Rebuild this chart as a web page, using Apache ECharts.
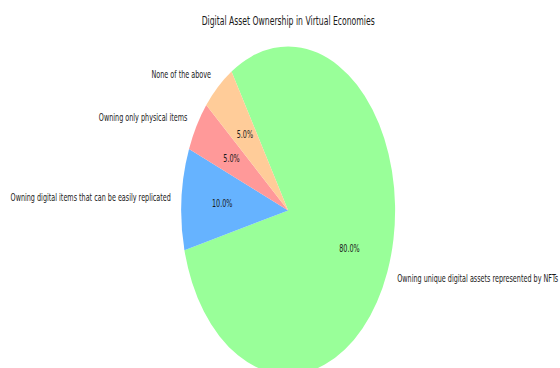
<!DOCTYPE html>
<html><head><meta charset="utf-8">
<script src="https://cdn.jsdelivr.net/npm/echarts@6/dist/echarts.min.js"></script>
<style>
html,body{margin:0;padding:0;width:560px;height:368px;overflow:hidden;background:#fff}
#chart{width:884px;height:368px;transform:scaleX(0.652);transform-origin:0 0;}
</style>
</head><body><div id="chart"></div>
<script>
const titleText = 'Digital Asset Ownership in Virtual Economies';
const categories = [
  'Owning unique digital assets represented by NFTs',
  'Owning digital items that can be easily replicated',
  'Owning only physical items',
  'None of the above'
];
const values = [80, 10, 5, 5];
const colors = ['#99ff99', '#66b3ff', '#ff9999', '#ffcc99'];

const R = 164;
const C = [442, 210.5];
const FONT = 'DejaVu Sans';
const TXT = '#1a1a1a';

const sliceData = categories.map((c, i) => ({ name: c, value: values[i], itemStyle: { color: colors[i] } }));
const pctData = categories.map((c, i) => ({ name: c, value: values[i] }));

const chart = echarts.init(document.getElementById('chart'), null, { renderer: 'svg' });
chart.setOption({
  animation: false,
  title: {
    text: titleText, left: 'center', top: 10,
    textStyle: { fontFamily: FONT, fontSize: 11.8, fontWeight: 'normal', color: TXT }
  },
  series: [
    {
      type: 'pie', center: C, radius: [0, R], startAngle: 122, clockwise: true,
      avoidLabelOverlap: false, silent: true,
      emphasis: { disabled: true },
      itemStyle: { borderWidth: 0 },
      label: { show: true, position: 'outside', formatter: '{b}', fontFamily: FONT, fontSize: 9.9, color: TXT, distanceToLabelLine: 0 },
      labelLine: { show: false, length: R * 0.1, length2: 0 },
      data: sliceData
    },
    {
      type: 'pie', center: C, radius: [0, R * 1.2], startAngle: 122, clockwise: true,
      avoidLabelOverlap: false, silent: true,
      emphasis: { disabled: true },
      itemStyle: { color: 'rgba(0,0,0,0)', borderWidth: 0 },
      label: { show: true, position: 'inside', formatter: p => p.percent.toFixed(1) + '%', fontFamily: FONT, fontSize: 9.9, color: TXT, textBorderWidth: 0 },
      labelLine: { show: false },
      data: pctData
    }
  ]
});
</script>
</body></html>
